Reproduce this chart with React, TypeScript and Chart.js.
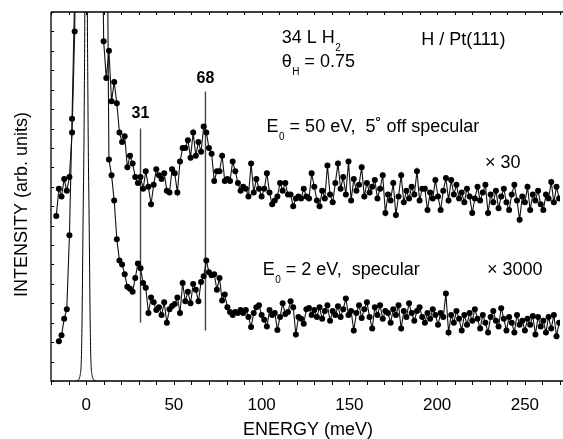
import { useEffect, useRef } from "react";
import { Chart, registerables } from "chart.js";

Chart.register(...registerables);

// ---- data ----
const gridStart = -17; // meV, first sample of the two loss spectra
const gridStep = 1.5; // meV between samples

// E0 = 50 eV, 5° off specular (x 30)
const upperIntensity = [
  8.5, 9.9, 9.5, 10.4, 9.8, 10.5, 12.8, 18.0, 30, 30,
  30, 30, 30, 30, 30, 30, 30, 30, 17.5, 15.6,
  17.0, 14.4, 15.4, 14.3, 12.8, 12.3, 12.6, 11.0, 11.6, 11.2,
  10.5, 10.2, 10.5, 9.9, 10.8, 10.0, 9.1, 10.1, 10.9, 10.6,
  10.4, 10.7, 9.8, 9.7, 10.9, 10.7, 9.7, 11.3, 12.0, 12.0,
  12.4, 11.5, 12.8, 11.6, 12.3, 11.8, 13.1, 12.8, 12.0, 11.7,
  10.3, 10.8, 10.8, 11.6, 10.3, 10.4, 10.3, 11.3, 10.8, 10.2,
  9.8, 10.0, 9.9, 9.5, 11.2, 9.7, 10.4, 9.9, 9.5, 9.9,
  10.7, 9.7, 9.1, 9.3, 9.5, 10.2, 9.8, 10.2, 9.6, 9.6,
  9.0, 9.4, 9.5, 9.4, 9.9, 9.5, 9.4, 10.7, 10.0, 9.3,
  9.0, 9.8, 9.4, 11.1, 9.6, 9.2, 10.2, 11.2, 9.9, 10.5,
  9.6, 11.3, 9.3, 10.4, 9.8, 10.1, 11.0, 9.5, 10.2, 9.7,
  10.0, 10.35, 9.4, 9.9, 10.6, 8.65, 9.6, 9.3, 10.2, 8.55,
  9.5, 10.6, 9.2, 9.8, 9.4, 10.0, 9.6, 10.8, 9.3, 9.9,
  9.9, 8.8, 9.7, 9.4, 10.35, 9.5, 8.8, 9.8, 10.45, 9.3,
  10.35, 9.6, 10.1, 9.4, 9.7, 9.2, 9.9, 9.5, 8.65, 9.4,
  10.0, 9.3, 9.7, 10.1, 8.65, 9.6, 9.2, 9.8, 8.9, 9.5,
  9.9, 9.2, 8.8, 9.6, 10.1, 9.3, 8.3, 9.5, 9.2, 10.0,
  8.8, 9.6, 9.3, 9.8, 9.1, 8.8, 9.6, 9.4, 10.25, 9.2,
  10.0, 9.4,
];

// E0 = 2 eV, specular (x 3000)
const lowerIntensity = [
  null, 2.05, 2.35, 3.2, 3.7, 7.5, 13.5, 20.0, 30, 30,
  30, 30, 30, 30, 30, 30, 30, 30, 30, 30,
  11.4, 10.6, 9.3, 7.3, 6.2, 6.0, 5.5, 4.85, 4.75, 4.6,
  5.3, 6.05, 5.8, 5.05, 4.8, 3.5, 4.3, 4.05, 3.65, 3.8,
  3.4, 4.05, 3.0, 3.7, 3.86, 3.96, 4.3, 3.5, 5.05, 4.1,
  4.6, 4.0, 5.0, 4.7, 4.1, 5.1, 5.4, 6.2, 5.6, 5.45,
  5.5, 4.7, 5.3, 4.15, 4.45, 3.8, 3.55, 3.4, 3.55, 3.5,
  3.65, 3.5, 3.66, 3.3, 2.78, 3.5, 3.8, 3.9, 3.4, 3.15,
  2.8, 3.65, 3.4, 3.5, 2.63, 3.3, 4.0, 3.45, 3.55, 4.1,
  3.8, 2.4, 3.3, 3.2, 2.95, 3.7, 3.76, 3.4, 3.66, 3.3,
  3.8, 3.2, 3.6, 3.9, 3.1, 3.6, 3.4, 3.85, 3.3, 3.7,
  4.25, 3.4, 3.6, 2.6, 3.5, 3.9, 3.25, 3.7, 4.05, 3.3,
  2.7, 3.8, 3.4, 3.9, 3.2, 3.6, 3.5, 3.0, 3.7, 3.4,
  3.9, 2.7, 3.6, 3.3, 4.0, 3.5, 3.1, 3.6, 3.8, 3.3,
  3.0, 3.5, 3.2, 3.7, 3.4, 2.9, 3.5, 3.3, 4.5, 2.5,
  3.4, 3.0, 3.6, 3.2, 2.6, 3.4, 2.9, 3.5, 3.1, 3.7,
  3.2, 2.7, 3.4, 3.0, 2.5, 3.3, 3.6, 3.1, 2.8, 3.75,
  3.2, 2.6, 3.3, 3.0, 2.5, 3.4, 2.9, 3.1, 2.6, 3.2,
  2.9, 3.35, 2.4, 3.3, 2.8, 3.1, 2.5, 3.3, 2.7, 3.4,
  2.3, 3.0,
];

// elastic peak (unscaled)
const elasticEnergy = [
  -5.5, -4.5, -3.8, -3.3, -2.9, -2.6, -2.3, -2.0, -1.7, -1.3, -1.0, -0.7, -0.5, 0,
  0.5, 0.7, 1.0, 1.3, 1.7, 2.0, 2.3, 2.6, 2.9, 3.3, 3.8, 4.5, 5.5,
];
const elasticIntensity = [
  0, 0.05, 0.15, 0.35, 0.7, 1.5, 3.2, 5.8, 8.5, 11.5, 15, 19.5, 26, 40,
  26, 19.5, 15, 11.5, 8.5, 5.8, 3.2, 1.5, 0.7, 0.35, 0.15, 0.05, 0,
];

const peakEnergies = [31, 68];
const peakLabels = ["31", "68"];
const peakLineBottom = [3.0, 2.6];
const peakLineTop = [13.0, 14.9];
const peakLabelY = [13.55, 15.35];

const xTickValues = [0, 50, 100, 150, 200, 250];
const xMin = -20;
const xMax = 270;
const yMin = 0;
const yMax = 19;

const xTitle = "ENERGY (meV)";
const yTitle = "INTENSITY (arb. units)";

type Part = [string, boolean?];
const notes: { x: number; y: number; parts: Part[] }[] = [
  { x: 111.4, y: 17.4, parts: [["34 L H"], ["2", true]] },
  { x: 111.4, y: 16.17, parts: [["θ"], ["H", true], [" = 0.75"]] },
  { x: 190.9, y: 17.3, parts: [["H / Pt(111)"]] },
  { x: 102.8, y: 12.82, parts: [["E"], ["0", true], [" = 50 eV,  5˚ off specular"]] },
  { x: 227.3, y: 10.97, parts: [["× 30"]] },
  { x: 100.6, y: 5.46, parts: [["E"], ["0", true], [" = 2 eV,  specular"]] },
  { x: 228.4, y: 5.46, parts: [["× 3000"]] },
];

const FONT = "'Liberation Sans', Arial, Helvetica, sans-serif";

const framePlugin = {
  id: "frame",
  afterDatasetsDraw(chart: any) {
    const { ctx, chartArea: a, scales } = chart;
    const xs = scales.x;
    const ys = scales.y;
    ctx.save();
    ctx.strokeStyle = "#000";
    ctx.lineWidth = 1.3;
    ctx.beginPath();
    ctx.moveTo(a.left, a.top);
    ctx.lineTo(a.left, a.bottom);
    ctx.lineTo(chart.width, a.bottom);
    ctx.moveTo(a.left, a.top);
    ctx.lineTo(chart.width, a.top);
    ctx.stroke();

    ctx.lineWidth = 1;
    ctx.beginPath();
    for (let v = xMin; v <= xMax; v += 10) {
      const px = Math.round(xs.getPixelForValue(v)) + 0.5;
      ctx.moveTo(px, a.bottom);
      ctx.lineTo(px, a.bottom + 4);
      ctx.moveTo(px, a.top);
      ctx.lineTo(px, a.top + 3);
    }
    for (let v = yMin; v <= yMax; v += 1) {
      const py = Math.round(ys.getPixelForValue(v)) + 0.5;
      ctx.moveTo(a.left, py);
      ctx.lineTo(a.left + 3, py);
    }
    ctx.stroke();

    // titles
    ctx.fillStyle = "#000";
    ctx.font = `18px ${FONT}`;
    ctx.textAlign = "center";
    ctx.textBaseline = "alphabetic";
    ctx.fillText(xTitle, (a.left + chart.width) / 2 + 1, 435);
    ctx.save();
    ctx.translate(27, (a.top + a.bottom) / 2 + 8);
    ctx.rotate(-Math.PI / 2);
    ctx.fillText(yTitle, 0, 0);
    ctx.restore();

    // peak labels
    ctx.font = `bold 16px ${FONT}`;
    peakEnergies.forEach((e, i) => {
      ctx.fillText(peakLabels[i], xs.getPixelForValue(e), ys.getPixelForValue(peakLabelY[i]));
    });

    // annotations
    ctx.textAlign = "left";
    notes.forEach((n) => {
      let x = xs.getPixelForValue(n.x);
      const y = ys.getPixelForValue(n.y);
      n.parts.forEach(([t, sub]) => {
        if (sub) {
          ctx.font = `10px ${FONT}`;
          ctx.fillText(t, x + 0.5, y + 8);
          x += ctx.measureText(t).width + 0.5;
        } else {
          ctx.font = `18px ${FONT}`;
          ctx.fillText(t, x, y);
          x += ctx.measureText(t).width;
        }
      });
    });
    ctx.restore();
  },
};

export default function App() {
  const ref = useRef<HTMLCanvasElement | null>(null);
  useEffect(() => {
    if (!ref.current) return;
    const toPoints = (vals: (number | null)[]) =>
      vals.map((v, i) => ({ x: gridStart + i * gridStep, y: v }));
    const spectrumStyle = {
      borderColor: "#111",
      borderWidth: 1.1,
      pointRadius: 3,
      pointBackgroundColor: "#000",
      pointBorderWidth: 0,
      pointHoverRadius: 3,
      spanGaps: false,
      tension: 0,
    };
    const chart = new Chart(ref.current, {
      type: "line",
      data: {
        datasets: [
          {
            label: "elastic",
            data: elasticEnergy.map((e, i) => ({ x: e, y: elasticIntensity[i] })),
            borderColor: "#000",
            borderWidth: 1,
            pointRadius: 0,
            cubicInterpolationMode: "monotone",
          } as any,
          { label: "E0 = 50 eV", data: toPoints(upperIntensity), ...spectrumStyle } as any,
          { label: "E0 = 2 eV", data: toPoints(lowerIntensity), ...spectrumStyle } as any,
          ...peakEnergies.map(
            (e, i) =>
              ({
                label: "peak " + peakLabels[i],
                data: [
                  { x: e, y: peakLineBottom[i] },
                  { x: e, y: peakLineTop[i] },
                ],
                borderColor: "#444",
                borderWidth: 1.4,
                pointRadius: 0,
              }) as any
          ),
        ],
      },
      options: {
        animation: false,
        responsive: false,
        devicePixelRatio: 1,
        layout: { padding: { top: 12, right: 2, left: 0, bottom: 0 } },
        plugins: { legend: { display: false }, tooltip: { enabled: false } },
        events: [],
        scales: {
          x: {
            type: "linear",
            min: xMin,
            max: xMax,
            afterBuildTicks: (s: any) => {
              s.ticks = xTickValues.map((v) => ({ value: v }));
            },
            afterFit: (s: any) => {
              s.height = 58;
            },
            grid: { display: false },
            border: { display: false },
            ticks: {
              font: { family: FONT, size: 17 },
              color: "#000",
              padding: 6,
              maxRotation: 0,
              autoSkip: false,
            },
          },
          y: {
            type: "linear",
            min: yMin,
            max: yMax,
            afterFit: (s: any) => {
              s.width = 51;
            },
            grid: { display: false },
            border: { display: false },
            ticks: { display: false },
          },
        },
      },
      plugins: [framePlugin],
    });
    return () => chart.destroy();
  }, []);
  return (
    <div style={{ position: "fixed", left: 0, top: 0, width: 563, height: 439, background: "#fff" }}>
      <canvas ref={ref} width={563} height={439} style={{ width: 563, height: 439, display: "block" }} />
    </div>
  );
}
